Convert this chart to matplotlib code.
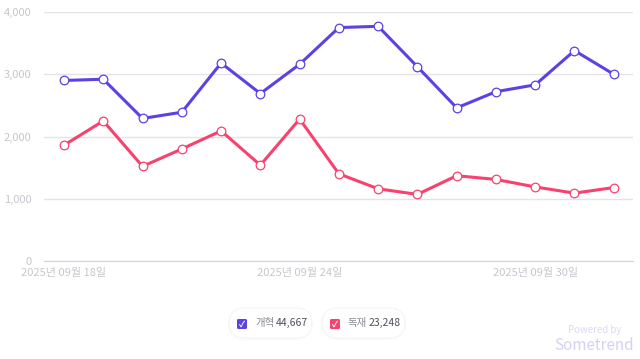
import matplotlib
matplotlib.use("Agg")
import matplotlib.pyplot as plt
from matplotlib.patches import FancyBboxPatch
from matplotlib.ticker import FuncFormatter
import numpy as np

plt.rcParams['font.family'] = ['Noto Sans CJK KR', 'DejaVu Sans']

dates = ['2025년 09월 %02d일' % d for d in range(18, 31)] + ['2025년 10월 01일', '2025년 10월 02일']
reform = [2900, 2920, 2290, 2390, 3180, 2690, 3160, 3750, 3770, 3120, 2460, 2720, 2830, 3380, 3000]
dictator = [1860, 2250, 1520, 1800, 2090, 1540, 2280, 1400, 1160, 1070, 1370, 1310, 1190, 1090, 1180]
names = ['개혁', '독재']
totals = ['44,667', '23,248']
colors = ['#5a42e3', '#f7426e']
tick_idx = [0, 6, 12]

fig = plt.figure(figsize=(6.4, 3.59), dpi=100)
ax = fig.add_axes([44 / 640, 1 - 261 / 359, (633 - 44) / 640, (261 - 12) / 359])

x = np.arange(len(dates))
for vals, c in zip([reform, dictator], colors):
    ax.plot(x, vals, color=c, lw=2.2, marker='o', ms=6.2, mfc='white',
            mec=c, mew=0.9, zorder=3, clip_on=False)

ax.set_ylim(0, 4000)
ax.set_xlim(-0.51, 14.49)
ax.set_yticks([0, 1000, 2000, 3000, 4000])
ax.yaxis.set_major_formatter(FuncFormatter(lambda v, p: f'{int(v):,}'))
ax.set_xticks(tick_idx)
ax.set_xticklabels([dates[i] for i in tick_idx])
ax.grid(axis='y', color='#e4e4e8', lw=1)
ax.set_axisbelow(True)
for s in ['top', 'right', 'left']:
    ax.spines[s].set_visible(False)
ax.spines['bottom'].set_color('#d4d4da')
ax.tick_params(axis='both', length=0, colors='#c6c6ce', labelsize=8)
ax.tick_params(axis='y', pad=9)
ax.tick_params(axis='x', pad=5)

# legend pills
pills = [(229, 312), (322, 405)]
for (x0, x1), name, tot, c in zip(pills, names, totals, colors):
    y0, y1 = 308, 338
    for k in range(3):
        sh = FancyBboxPatch(((x0 - k) / 640, 1 - (y1 + 1 + k) / 359), (x1 - x0 + 2 * k) / 640,
                            (y1 - y0 + 2 * k) / 359,
                            boxstyle='round,pad=0,rounding_size=0.03',
                            transform=fig.transFigure, fc='#000000', ec='none',
                            alpha=0.008, mutation_aspect=640 / 359)
        fig.patches.append(sh)
    pill = FancyBboxPatch((x0 / 640, 1 - y1 / 359), (x1 - x0) / 640, (y1 - y0) / 359,
                          boxstyle='round,pad=0,rounding_size=0.025',
                          transform=fig.transFigure, fc='white', ec='#f3f3f5', lw=0.6,
                          mutation_aspect=640 / 359)
    fig.patches.append(pill)
    bx = x0 + 8
    box = FancyBboxPatch((bx / 640, 1 - 329 / 359), 10 / 640, 10 / 359,
                         boxstyle='round,pad=0,rounding_size=0.003',
                         transform=fig.transFigure, fc=c, ec='none')
    fig.patches.append(box)
    fig.text((bx + 5) / 640, 1 - 324 / 359, '✓', color='white', fontsize=6,
             ha='center', va='center', fontweight='bold')
    fig.text((bx + 18) / 640, 1 - 323 / 359, name, color='#8a8a92', fontsize=7.5, va='center')
    fig.text((bx + 39) / 640, 1 - 323 / 359, tot, color='#50505a', fontsize=7.5, va='center')

fig.text(622 / 640, 1 - 330 / 359, 'Powered by', color='#dcd8f6', fontsize=7, ha='right', va='center')
fig.text(634 / 640, 1 - 346 / 359, 'Sometrend', color='#d6d0f7', fontsize=11,
         ha='right', va='center', fontweight='medium')

fig.savefig('out.png', dpi=100)
